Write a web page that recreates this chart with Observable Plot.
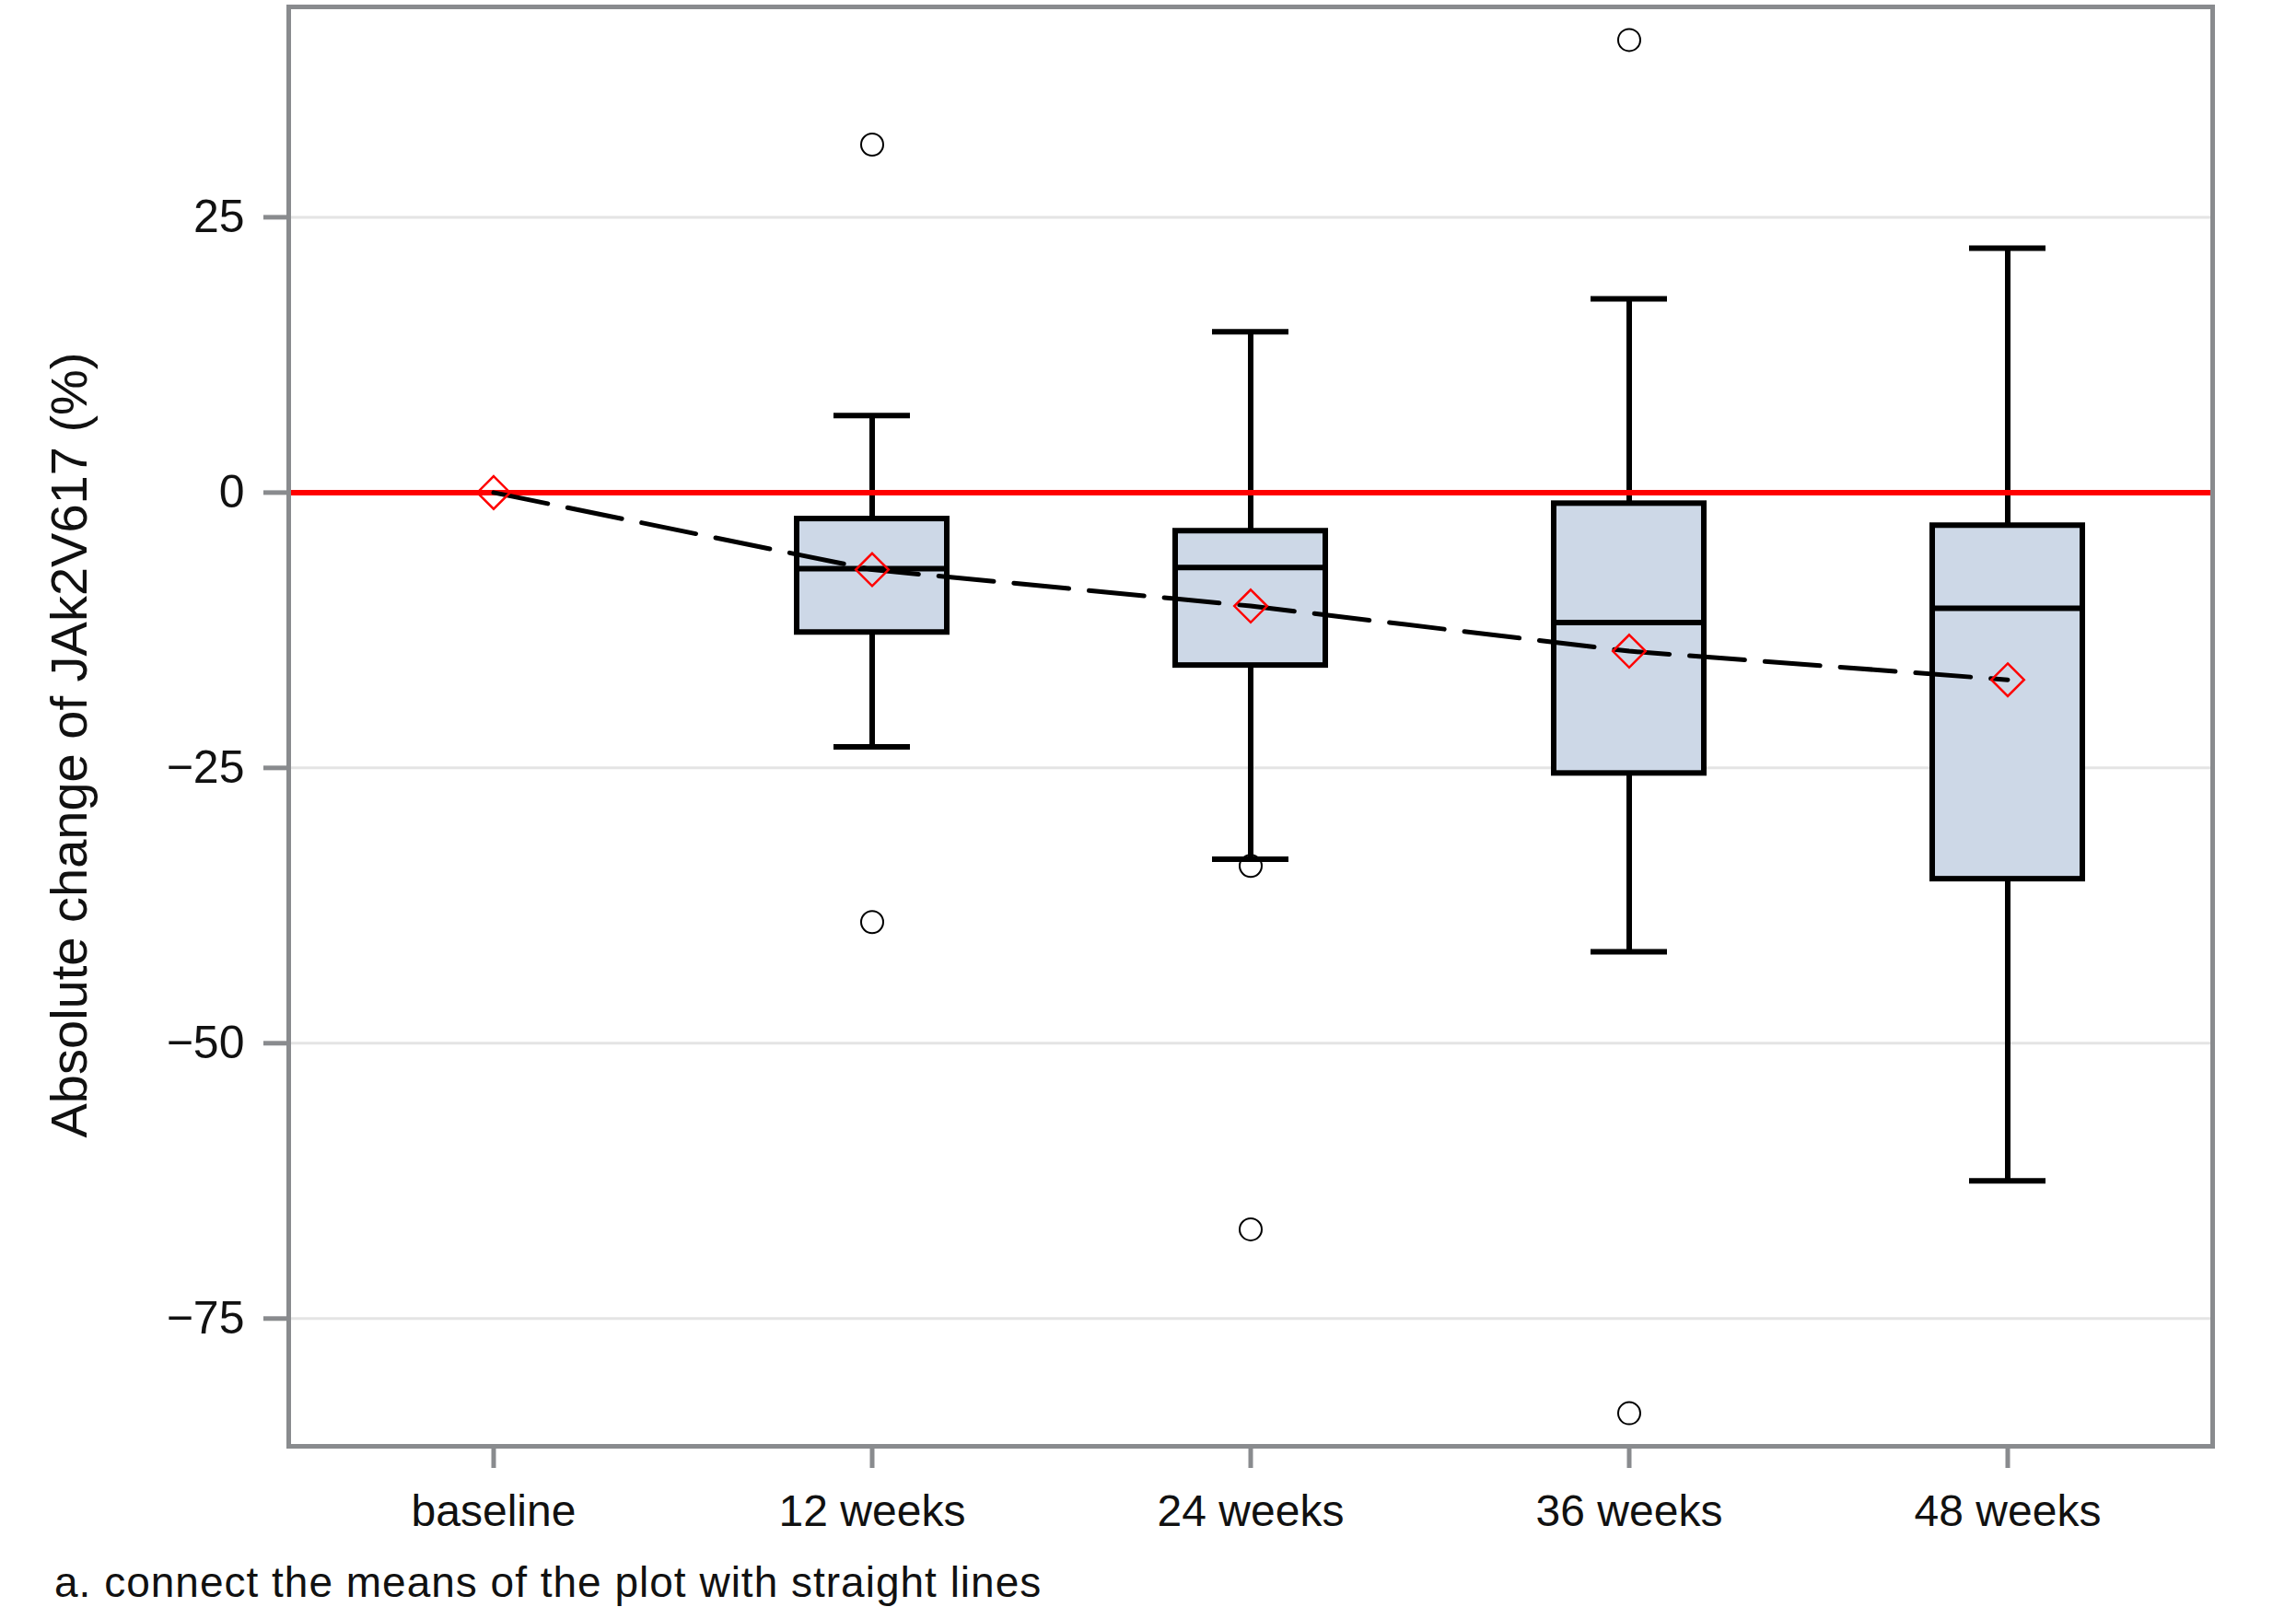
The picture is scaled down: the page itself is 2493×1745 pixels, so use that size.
<!DOCTYPE html>
<html><head><meta charset="utf-8">
<script src="https://cdn.jsdelivr.net/npm/d3@7"></script>
<script src="https://cdn.jsdelivr.net/npm/@observablehq/plot@0.6"></script>
<style>
html,body{margin:0;padding:0;background:#fff;}
#wrap{position:relative;width:2493px;height:1745px;overflow:hidden;}
#cap{position:absolute;left:59px;top:1695px;font-family:"Liberation Sans",Arial,sans-serif;font-size:46px;line-height:1;color:#111;white-space:nowrap;letter-spacing:1px;}
</style></head><body><div id="wrap"></div><script>
const categories = ["baseline","12 weeks","24 weeks","36 weeks","48 weeks"];
const boxCategories = ["12 weeks","24 weeks","36 weeks","48 weeks"];
const whiskerLow  = [-23.1,-33.3,-41.7,-62.5];
const q1          = [-12.7,-15.7,-25.5,-35.1];
const median      = [-6.9,-6.8,-11.8,-10.5];
const q3          = [-2.4,-3.5,-1.0,-3.0];
const whiskerHigh = [7.0,14.6,17.6,22.2];
const means       = [0,-7.0,-10.3,-14.4,-17.0];
const outlierCategories = ["12 weeks","12 weeks","24 weeks","24 weeks","36 weeks","36 weeks"];
const outlierValues     = [31.6,-39.0,-33.9,-66.9,41.1,-83.6];
const yTicks = [-75,-50,-25,0,25];
const referenceLine = [0];
const yLabel = ["Absolute change of JAk2V617 (%)"];
const captionText = "a. connect the means of the plot with straight lines";

const boxes = boxCategories.map((c,i)=>({cat:c, lo:whiskerLow[i], q1:q1[i], med:median[i], q3:q3[i], hi:whiskerHigh[i]}));
const meanData = categories.map((c,i)=>({cat:c, mean:means[i]}));
const outliers = outlierCategories.map((c,i)=>({cat:c, v:outlierValues[i]}));

const axisColor = "#898b8e";
const font = "'Liberation Sans',Arial,sans-serif";

const chart = Plot.plot({
  width: 2493,
  height: 1680,
  marginLeft: 313,
  marginRight: 91,
  marginTop: 7,
  marginBottom: 110,
  style: {fontFamily: font, fontSize: "50px", background: "#fff", color: "#111"},
  x: {type: "band", domain: categories, paddingInner: 0.604, paddingOuter: 0.3385, label: null},
  y: {domain: [-86.6, 44.1], label: null},
  marks: [
    Plot.gridY(yTicks, {stroke: "#e4e4e4", strokeOpacity: 1, strokeWidth: 3}),
    Plot.ruleX(boxes, {x: "cat", y1: "lo", y2: "q1", stroke: "#000", strokeWidth: 6}),
    Plot.ruleX(boxes, {x: "cat", y1: "q3", y2: "hi", stroke: "#000", strokeWidth: 6}),
    Plot.tickY(boxes, {x: "cat", y: "lo", stroke: "#000", strokeWidth: 6, insetLeft: 40, insetRight: 40}),
    Plot.tickY(boxes, {x: "cat", y: "hi", stroke: "#000", strokeWidth: 6, insetLeft: 40, insetRight: 40}),
    Plot.ruleY(referenceLine, {stroke: "#ff0000", strokeWidth: 6}),
    Plot.barY(boxes, {x: "cat", y1: "q1", y2: "q3", fill: "#cdd8e7", stroke: "#000", strokeWidth: 6}),
    Plot.tickY(boxes, {x: "cat", y: "med", stroke: "#000", strokeWidth: 6}),
    Plot.lineY(meanData, {x: "cat", y: "mean", stroke: "#000", strokeWidth: 5, strokeDasharray: "60,22"}),
    Plot.dot(meanData, {x: "cat", y: "mean", symbol: "diamond2", r: 16, stroke: "#ff0000", strokeWidth: 2.5, fill: "none"}),
    Plot.dot(outliers, {x: "cat", y: "v", r: 12, stroke: "#000", strokeWidth: 2, fill: "none"}),
    Plot.frame({stroke: axisColor, strokeWidth: 5}),
    Plot.axisY(yTicks, {tickSize: 27, tickPadding: 21, stroke: axisColor, strokeWidth: 5, fill: "#111", fontSize: 50, label: null}),
    Plot.axisX({tickSize: 24, tickPadding: 28, stroke: axisColor, strokeWidth: 5, fill: "#111", fontSize: 48, label: null}),
    Plot.text(yLabel, {frameAnchor: "left", text: d => d, rotate: -90, textAnchor: "middle", lineAnchor: "middle", dx: -237, dy: 20, fontSize: 56, fontFamily: font, fill: "#111"})
  ]
});
const wrap = document.getElementById("wrap");
wrap.appendChild(chart);
const cap = document.createElement("div");
cap.id = "cap";
cap.textContent = captionText;
wrap.appendChild(cap);
</script></body></html>
